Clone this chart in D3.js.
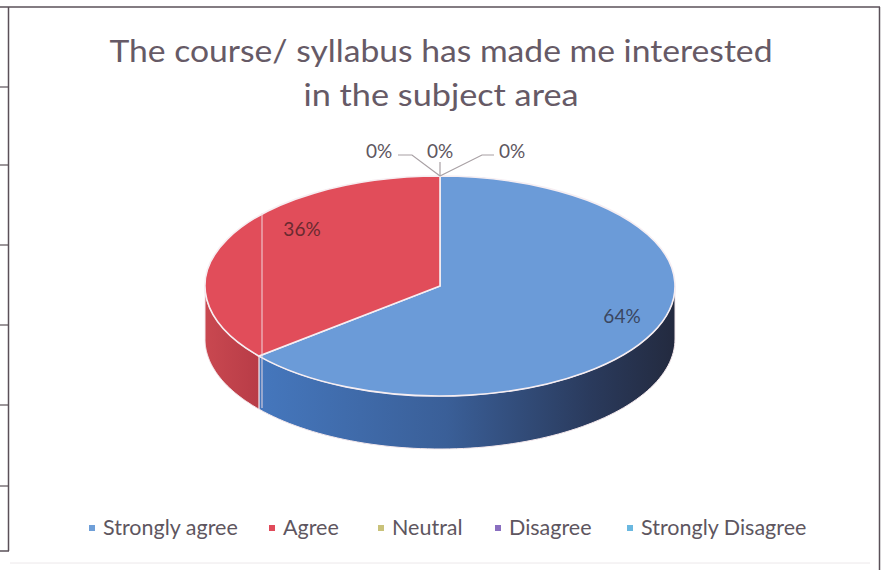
<!DOCTYPE html>
<html>
<head>
<meta charset="utf-8">
<script src="https://cdn.jsdelivr.net/npm/d3@7"></script>
<style>
  html, body { margin: 0; padding: 0; background: #ffffff; }
  svg { display: block; }
</style>
</head>
<body>
<script>
// ---- data ----
const categories = ["Strongly agree", "Agree", "Neutral", "Disagree", "Strongly Disagree"];
const values = [64, 36, 0, 0, 0];
const percentLabels = ["64%", "36%", "0%", "0%", "0%"];
const titleLines = ["The course/ syllabus has made me interested", "in the subject area"];

// ---- styles ----
const topColors = ["#6b9bd8", "#e14d5a", "#c9c27a", "#8a6fc0", "#6ab8e0"];
const legendColors = ["#6f9fd8", "#e04a5a", "#c9c27a", "#8a6fc0", "#6ab8e0"];

const W = 881, H = 578;
const svg = d3.select("body").append("svg").attr("width", W).attr("height", H);

// frame (scanned document borders)
const frame = svg.append("g").attr("fill", "none").attr("stroke", "#5a5058").attr("stroke-width", 1.5);
frame.append("line").attr("x1", 0).attr("x2", 880).attr("y1", 7).attr("y2", 7);
frame.append("line").attr("x1", 8.5).attr("x2", 8.5).attr("y1", 7).attr("y2", 551);
frame.append("line").attr("x1", 879.5).attr("x2", 879.5).attr("y1", 7).attr("y2", 570);
frame.append("line").attr("x1", 0).attr("x2", 9).attr("y1", 551).attr("y2", 551);
[87, 165, 245, 325, 405, 486].forEach(y => {
  frame.append("line").attr("x1", 0).attr("x2", 9).attr("y1", y).attr("y2", y).attr("stroke-width", 1.2);
});
svg.append("line").attr("x1", 10).attr("x2", 870).attr("y1", 563).attr("y2", 563)
  .attr("stroke", "#ece8ea").attr("stroke-width", 1);

// title
const title = svg.append("g").attr("font-family", "Lato, 'Open Sans', sans-serif")
  .attr("font-weight", 400).attr("fill", "#665a66").attr("text-anchor", "middle");
title.append("text").attr("x", 441).attr("y", 62).attr("font-size", 30)
  .attr("textLength", 663).attr("lengthAdjust", "spacingAndGlyphs").text(titleLines[0]);
title.append("text").attr("x", 441).attr("y", 106).attr("font-size", 30)
  .attr("textLength", 275).attr("lengthAdjust", "spacingAndGlyphs").text(titleLines[1]);

// ---- 3D pie ----
const cx = 440, cy = 286, rx = 235, ry = 110, depth = 53;
const pie = d3.pie().sort(null).value(d => d)(values);

const defs = svg.append("defs");
const gb = defs.append("linearGradient").attr("id", "sideBlue").attr("x1", 0).attr("x2", 1).attr("y1", 0).attr("y2", 0);
gb.append("stop").attr("offset", "0%").attr("stop-color", "#4577bd");
gb.append("stop").attr("offset", "45%").attr("stop-color", "#3a5f98");
gb.append("stop").attr("offset", "80%").attr("stop-color", "#2a3a5c");
gb.append("stop").attr("offset", "100%").attr("stop-color", "#232a3f");
const gr = defs.append("linearGradient").attr("id", "sideRed").attr("x1", 0).attr("x2", 1).attr("y1", 0).attr("y2", 0);
gr.append("stop").attr("offset", "0%").attr("stop-color", "#c94850");
gr.append("stop").attr("offset", "100%").attr("stop-color", "#b83c47");
const sideFill = ["url(#sideBlue)", "url(#sideRed)", "#a8a060", "#6a5098", "#4a98c0"];

const px = a => cx + rx * Math.sin(a);
const py = a => cy - ry * Math.cos(a);

// side walls (visible front half: angles between PI/2 and 3PI/2)
const sides = svg.append("g");
pie.forEach((s, i) => {
  const a0 = Math.max(s.startAngle, Math.PI / 2);
  const a1 = Math.min(s.endAngle, 3 * Math.PI / 2);
  if (a1 <= a0) return;
  const n = 80;
  const pts = d3.range(n + 1).map(k => a0 + (a1 - a0) * k / n);
  const p = d3.path();
  p.moveTo(px(pts[0]), py(pts[0]));
  pts.forEach(a => p.lineTo(px(a), py(a)));
  pts.slice().reverse().forEach(a => p.lineTo(px(a), py(a) + depth));
  p.closePath();
  sides.append("path").attr("d", p.toString()).attr("fill", sideFill[i])
    .attr("stroke", "#f4e8ec").attr("stroke-width", 1).attr("stroke-linejoin", "round");
});

// top faces: d3.arc in a vertically squashed group
const arc = d3.arc().innerRadius(0).outerRadius(rx);
const topG = svg.append("g").attr("transform", `translate(${cx},${cy}) scale(1,${ry / rx})`);
topG.selectAll("path").data(pie.filter(d => d.value > 0)).join("path")
  .attr("d", arc)
  .attr("fill", d => topColors[d.index])
  .attr("stroke", "#f6eef2").attr("stroke-width", 1.6)
  .attr("vector-effect", "non-scaling-stroke");

// scan artifact line
svg.append("line").attr("x1", 262).attr("x2", 262).attr("y1", 213).attr("y2", 408)
  .attr("stroke", "#f2dfe4").attr("stroke-width", 1.2).attr("opacity", 0.8);

// data labels
const lab = svg.append("g").attr("font-family", "Lato, 'Open Sans', sans-serif")
  .attr("font-size", 19).attr("text-anchor", "middle");
lab.append("text").attr("x", 622).attr("y", 323).attr("fill", "#3a4660").text(percentLabels[0]);
lab.append("text").attr("x", 302).attr("y", 236).attr("fill", "#6a2a30").text(percentLabels[1]);

// zero-value labels with leader lines
const topPt = [px(pie[2].startAngle), py(pie[2].startAngle)];
const zeroPos = [[379, 158], [440, 158], [512, 158]];
const leader = svg.append("g").attr("stroke", "#a8a0a4").attr("stroke-width", 1.2).attr("fill", "none");
leader.append("polyline").attr("points", `398,155 412,155 ${topPt[0]},${topPt[1]}`);
leader.append("line").attr("x1", topPt[0]).attr("x2", topPt[0]).attr("y1", 162).attr("y2", topPt[1]);
leader.append("polyline").attr("points", `494,155 482,155 ${topPt[0]},${topPt[1]}`);
[2, 3, 4].forEach((i, k) => {
  lab.append("text").attr("x", zeroPos[k][0]).attr("y", zeroPos[k][1])
    .attr("fill", "#5e5660").text(percentLabels[i]);
});

// legend
const legendX = [92, 272, 381, 498, 630];
const leg = svg.append("g").attr("font-family", "Lato, 'Open Sans', sans-serif").attr("font-size", 21.5);
categories.forEach((c, i) => {
  leg.append("rect").attr("x", legendX[i] - 3).attr("y", 525).attr("width", 6).attr("height", 6)
    .attr("fill", legendColors[i]);
  leg.append("text").attr("x", legendX[i] + 11).attr("y", 535).attr("fill", "#5e5660").text(c);
});
</script>
</body>
</html>
